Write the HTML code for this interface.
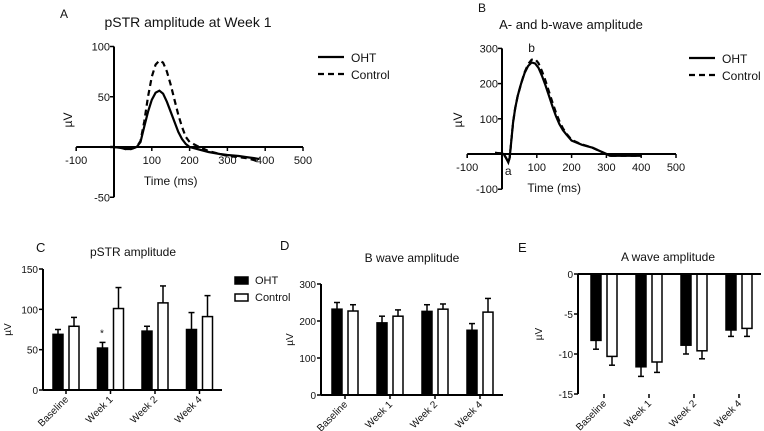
<!DOCTYPE html>
<html><head><meta charset="utf-8">
<style>
body{margin:0;background:#fff;}
svg{display:block;font-family:"Liberation Sans",Arial,sans-serif;}
</style></head>
<body>
<svg id="fig" width="764" height="431" viewBox="0 0 764 431"></svg>
<script>
// ---- Panel A data (pSTR waveform) ----
const aTimes = [-10,0,20,30,45,60,70,80,90,100,110,120,130,140,150,160,170,180,190,200,220,250,280,300,330,350,370,385];
const aOHT   = [0,0,-1,-2,-2,0,5,20,35,47,54,56,53,45,35,25,15,8,3,0,-2,-5,-7,-8,-9,-10,-11,-12];
const aCtrl  = [0,0,-1,-2,-2,0,6,25,50,70,82,86,84,75,62,47,32,20,10,5,1,-4,-7,-9,-10,-11,-13,-15];
// ---- Panel B data (ERG waveform) ----
const bTimes = [-20,-5,5,12,18,22,27,32,38,45,55,65,75,85,95,105,115,125,135,145,155,165,175,185,200,230,260,300,310,350,400];
const bOHT   = [3,2,0,-12,-24,-10,40,90,130,165,200,230,250,260,257,245,222,195,165,135,108,85,68,55,38,26,18,0,-5,-5,-5];
const bCtrl  = [3,2,0,-12,-24,-10,40,90,130,165,200,232,255,268,270,258,235,208,177,146,118,93,73,58,40,27,18,0,-5,-5,-5];
// ---- Bar panels ----
const categories = ["Baseline","Week 1","Week 2","Week 4"];
const cOHT=[69,52,73,75], cOHTerr=[6,7,6,21], cCtrl=[79,101,108,91], cCtrlErr=[11,26,21,26];
const dOHT=[232,195,226,175], dOHTerr=[18,18,18,18], dCtrl=[227,213,232,224], dCtrlErr=[17,17,14,37];
const eOHT=[-8.3,-11.6,-8.9,-7.0], eOHTerr=[1.1,1.2,1.1,0.8], eCtrl=[-10.3,-11.0,-9.6,-6.8], eCtrlErr=[1.1,1.3,1.0,1.0];
const aXTicks=[-100,100,200,300,400,500], aYTicks=[100,50,-50];
const bXTicks=[-100,100,200,300,400,500], bYTicks=[300,200,100,-100];
const cYTicks=[0,50,100,150], dYTicks=[0,100,200,300], eYTicks=[0,-5,-10,-15];

const NS="http://www.w3.org/2000/svg", svg=document.getElementById('fig');
function el(tag,attrs,parent,text){const e=document.createElementNS(NS,tag);for(const k in attrs)e.setAttribute(k,attrs[k]);if(text!==undefined)e.textContent=text;(parent||svg).appendChild(e);return e;}
function txt(x,y,s,size,anchor,parent,name){const t=el('text',{x:x,y:y,'font-size':size,'text-anchor':anchor||'middle',fill:'#111'},parent,s);

return t;}
function line(x1,y1,x2,y2,w,parent,dash){const l=el('line',{x1,y1,x2,y2,stroke:'#000','stroke-width':w||1.5},parent);if(dash)l.setAttribute('stroke-dasharray',dash);return l;}

function wavePanel(o){
  const g=el('g',{});
  
  
  const sx=v=>o.x0+(v)*o.kx, sy=v=>o.y0-v*o.ky;
  txt(o.lx,o.ly,o.letter,12,'start',g,'panel-letter');
  txt(o.tx,o.ty,o.title,o.tsize,'middle',g,'panel-title');
  line(sx(-100),o.y0,sx(500),o.y0,2,g);
  line(o.x0,sy(o.ymax),o.x0,sy(o.ymin),2,g);
  for(const t of o.xt){line(sx(t),o.y0,sx(t),o.y0+4,1.5,g);txt(sx(t),o.y0+17,String(t),11,'middle',g,'x-tick-label');}
  line(sx(-100),o.y0,sx(-100),o.y0+4,1.5,g);
  for(const t of o.yt){line(o.x0-4,sy(t),o.x0,sy(t),1.5,g);txt(o.x0-4,sy(t)+4,String(t),11,'end',g,'y-tick-label');}
  txt(sx(150),o.y0+38,'Time (ms)',12,'middle',g,'x-axis-title');
  const yl=txt(0,0,'µV',12,'middle',g,'y-axis-title');yl.setAttribute('transform',`translate(${o.ylx},${o.yly}) rotate(-90)`);
  const mk=(ys,dash,name)=>{const p=el('path',{d:o.times.map((t,i)=>(i?'L':'M')+sx(t).toFixed(1)+','+sy(ys[i]).toFixed(1)).join(''),fill:'none',stroke:'#000','stroke-width':2.2},g);
    if(dash)p.setAttribute('stroke-dasharray',dash);
    
    };
  mk(o.s2,'6,4','control-line');mk(o.s1,null,'oht-line');
  const lg=el('g',{},g);
  
  
  line(o.legx,o.legy,o.legx+26,o.legy,2.2,lg);txt(o.legx+33,o.legy+5,'OHT',12,'start',lg,'legend-oht');
  line(o.legx,o.legy+17,o.legx+26,o.legy+17,2.2,lg,'6,4');txt(o.legx+33,o.legy+22,'Control',12,'start',lg,'legend-control');
  return {g,sx,sy};
}
wavePanel({name:'panel-a',letter:'A',lx:60,ly:18,title:'pSTR amplitude at Week 1',tx:188,ty:27,tsize:14,x0:114,kx:0.378,y0:147,ky:1.005,ymax:100,ymin:-50,
  xt:aXTicks,yt:aYTicks,times:aTimes,s1:aOHT,s2:aCtrl,legx:318,legy:57,ylx:72,yly:120});
const B=wavePanel({name:'panel-b',letter:'B',lx:478,ly:12,title:'A- and b-wave amplitude',tx:571,ty:29,tsize:13,x0:502,kx:0.348,y0:154,ky:0.352,ymax:300,ymin:-100,
  xt:bXTicks,yt:bYTicks,times:bTimes,s1:bOHT,s2:bCtrl,legx:689,legy:58,ylx:462,yly:120});
txt(B.sx(85),B.sy(290),'b',12,'middle',B.g,'b-wave-label');
txt(B.sx(18),B.sy(-60),'a',12,'middle',B.g,'a-wave-label');

function barPanel(o){
  const g=el('g',{});
  
  
  const sy=v=>o.yTop+(o.ymax-v)/(o.ymax-o.ymin)*(o.yBot-o.yTop);
  txt(o.lx,o.ly,o.letter,13,'start',g,'panel-letter');
  txt(o.tx,o.ty,o.title,12,'middle',g,'panel-title');
  const base=sy(0);
  categories.forEach((c,i)=>{
    const cx=o.c0+i*o.step;
    [[o.s1,o.e1,'#000',-1],[o.s2,o.e2,'#fff',1]].forEach(([s,e,f,side],k)=>{
      const x=cx+(side<0?-o.bw-3:3), v=s[i], yv=sy(v);
      const r=el('rect',{x:x,y:Math.min(yv,base),width:o.bw,height:Math.abs(base-yv),fill:f,stroke:'#000','stroke-width':1.5},g);
      
      
      const ye=sy(v+(v<0?-e[i]:e[i])), mx=x+o.bw/2;
      line(mx,yv,mx,ye,1.5,g);line(mx-3,ye,mx+3,ye,1.5,g);
    });
    line(cx,o.yBot,cx,o.yBot+4,1.5,g);
    const t=txt(0,0,c,10,'end',g,'x-tick-label');t.setAttribute('transform',`translate(${cx+3},${o.yBot+10}) rotate(-45)`);
  });
  const axY=o.ymin<0?o.yTop:o.yBot;
  line(o.x0,axY,o.xEnd,axY,2,g);
  line(o.x0,o.yTop,o.x0,o.yBot,2,g);
  for(const t of o.yt){line(o.x0-4,sy(t),o.x0,sy(t),1.5,g);txt(o.x0-5,sy(t)+4,String(t),10,'end',g,'y-tick-label');}
  const yl=txt(0,0,'µV',10,'middle',g,'y-axis-title');yl.setAttribute('transform',`translate(${o.x0-o.ylOff},${(o.yTop+o.yBot)/2}) rotate(-90)`);
  return {g,sy};
}
const C=barPanel({name:'panel-c',letter:'C',lx:36,ly:252,title:'pSTR amplitude',tx:133,ty:256,x0:43,xEnd:222,yTop:269,yBot:390,ymax:150,ymin:0,yt:cYTicks,
  c0:66,step:44.5,bw:10,s1:cOHT,e1:cOHTerr,s2:cCtrl,e2:cCtrlErr,ylOff:32});
txt(102,C.sy(cOHT[1]+cOHTerr[1])-6,'*',10,'middle',C.g,'significance-star');
const lg=el('g',{});


el('rect',{x:235,y:277,width:13,height:7,fill:'#000',stroke:'#000','stroke-width':1.5},lg);
txt(255,284,'OHT',11,'start',lg,'legend-oht');
el('rect',{x:235,y:294,width:13,height:7,fill:'#fff',stroke:'#000','stroke-width':1.5},lg);
txt(255,301,'Control',11,'start',lg,'legend-control');
barPanel({name:'panel-d',letter:'D',lx:280,ly:250,title:'B wave amplitude',tx:412,ty:262,x0:321,xEnd:503,yTop:284,yBot:395,ymax:300,ymin:0,yt:dYTicks,
  c0:345,step:45,bw:10,s1:dOHT,e1:dOHTerr,s2:dCtrl,e2:dCtrlErr,ylOff:28});
barPanel({name:'panel-e',letter:'E',lx:518,ly:252,title:'A wave amplitude',tx:668,ty:261,x0:578,xEnd:761,yTop:274,yBot:394,ymax:0,ymin:-15,yt:eYTicks,
  c0:604,step:45,bw:10,s1:eOHT,e1:eOHTerr,s2:eCtrl,e2:eCtrlErr,ylOff:36});
</script>
</body></html>
